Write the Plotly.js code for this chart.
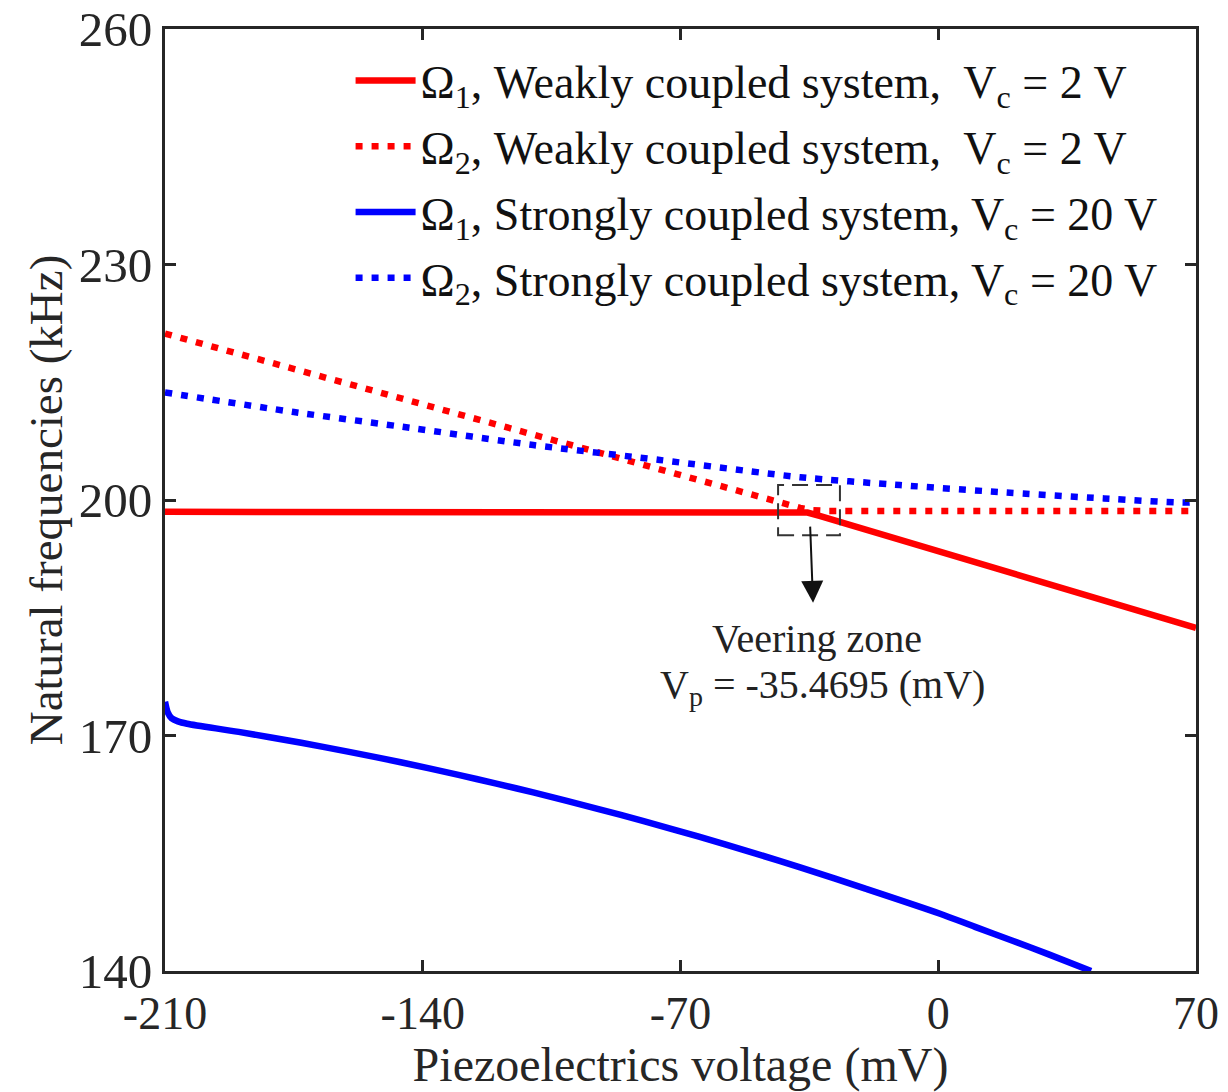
<!DOCTYPE html>
<html>
<head>
<meta charset="utf-8">
<script src="https://cdn.plot.ly/plotly-3.0.1.min.js"></script>
<style>
  html, body { margin: 0; padding: 0; background: #fff; }
  #chart { width: 1228px; height: 1092px; }
</style>
</head>
<body>
<div id="chart"></div>
<script>
// Piezoelectric voltage (mV) and natural frequencies (kHz)
const weakOmega1X = [-210, -38, -35.5, -32, 70];
const weakOmega1Y = [198.5, 198.5, 198.4, 197.95, 183.7];

const weakOmega2X = [-210, -175, -143.5, -110, -75.6, -64.7, -51.1, -42, -37.5, -34, -30, 70];
const weakOmega2Y = [221.2, 216.7, 212.6, 208.2, 203.8, 202.4, 200.6, 199.5, 199.0, 198.7, 198.6, 198.6];

const strongOmega1X = [-210, -209.3, -208.2, -206.5, -204, -190, -173, -160, -146, -130, -120, -110, -92, -80, -65, -50, -37.5, -20, 0.5, 10, 20, 30, 41.5];
const strongOmega1Y = [174.3, 173.0, 172.2, 171.8, 171.5, 170.46, 169.07, 167.91, 166.6, 164.95, 163.87, 162.75, 160.6, 159.09, 157.11, 155.02, 153.2, 150.53, 147.3, 145.62, 143.89, 142.12, 140.0];

const strongOmega2X = [-210, -175, -143.5, -110, -75.6, -37.5, -10.4, 17, 45, 68.5, 70];
const strongOmega2Y = [213.7, 211.2, 209.2, 207.0, 205.1, 202.9, 201.9, 201.0, 200.2, 199.7, 200.0];

const xTicks = [-210, -140, -70, 0, 70];
const yTicks = [140, 170, 200, 230, 260];

const legendNames = [
  'Ω<sub>1</sub>, Weakly coupled system,  V<sub>c</sub> = 2 V',
  'Ω<sub>2</sub>, Weakly coupled system,  V<sub>c</sub> = 2 V',
  'Ω<sub>1</sub>, Strongly coupled system, V<sub>c</sub> = 20 V',
  'Ω<sub>2</sub>, Strongly coupled system, V<sub>c</sub> = 20 V'
];

// Veering zone box and arrow (data coordinates)
const veerBoxX = [-43.5, -26.7];
const veerBoxY = [195.5, 201.9];
const veerArrowFrom = [-34.8, 196.8];
const veerArrowTo = [-34.0, 186.9];
const veerText1 = 'Veering zone';
const veerText2 = 'V<sub>p</sub> = -35.4695 (mV)';

const FONT = '"Liberation Serif", "Times New Roman", serif';
const RED = '#ff0000', BLUE = '#0000ff';
const LW = 6.5;
const DOT = '7px,9px';

const traces = [
  {x: weakOmega1X, y: weakOmega1Y, mode: 'lines', name: legendNames[0], legendgroup: 'a',
   line: {color: RED, width: LW}},
  {x: weakOmega2X, y: weakOmega2Y, mode: 'lines', name: legendNames[1], legendgroup: 'b',
   line: {color: RED, width: LW, dash: DOT}},
  {x: strongOmega1X, y: strongOmega1Y, mode: 'lines', name: legendNames[2], legendgroup: 'c',
   line: {color: BLUE, width: LW, shape: 'spline', smoothing: 0.8}},
  {x: strongOmega2X, y: strongOmega2Y, mode: 'lines', name: legendNames[3], legendgroup: 'd',
   line: {color: BLUE, width: LW, dash: DOT, shape: 'spline', smoothing: 0.6}}
];

const axisCommon = {
  showline: true, linecolor: '#262626', linewidth: 3, mirror: 'ticks',
  ticks: 'inside', ticklen: 11, tickwidth: 3, tickcolor: '#262626',
  showgrid: false, zeroline: false
};

const layout = {
  width: 1228, height: 1092,
  margin: {l: 165, r: 32, t: 29, b: 121},
  paper_bgcolor: '#fff', plot_bgcolor: '#fff',
  showlegend: true,
  legend: {
    x: 0.18, y: 0.984, xanchor: 'left', yanchor: 'top',
    bgcolor: 'rgba(0,0,0,0)', borderwidth: 0,
    font: {family: FONT, size: 46, color: '#111'},
    itemwidth: 60, tracegroupgap: 3
  },
  xaxis: Object.assign({}, axisCommon, {
    range: [-210, 70], tickmode: 'array', tickvals: xTicks,
    ticktext: xTicks.map(String),
    tickfont: {family: FONT, size: 46, color: '#262626'},
    title: {text: 'Piezoelectrics voltage (mV)', font: {family: FONT, size: 48, color: '#262626'}, standoff: 8}
  }),
  yaxis: Object.assign({}, axisCommon, {
    range: [140, 260], tickmode: 'array', tickvals: yTicks,
    ticktext: yTicks.map(String),
    tickfont: {family: FONT, size: 49, color: '#262626'},
    title: {text: 'Natural frequencies (kHz)', font: {family: FONT, size: 47, color: '#262626'}, standoff: 2}
  }),
  shapes: [
    {type: 'rect', xref: 'x', yref: 'y', x0: veerBoxX[0], x1: veerBoxX[1], y0: veerBoxY[0], y1: veerBoxY[1],
     line: {color: '#333', width: 2, dash: '16px,8px'}, fillcolor: 'rgba(0,0,0,0)'}
  ],
  annotations: [
    {x: veerArrowTo[0], y: veerArrowTo[1], ax: veerArrowFrom[0], ay: veerArrowFrom[1],
     xref: 'x', yref: 'y', axref: 'x', ayref: 'y', text: '', showarrow: true,
     arrowhead: 2, arrowsize: 2.2, arrowwidth: 2, arrowcolor: '#111'},
    {x: -33, y: 182.3, xref: 'x', yref: 'y', text: veerText1, showarrow: false,
     font: {family: FONT, size: 40, color: '#222'}, xanchor: 'center', yanchor: 'middle'},
    {x: -31.5, y: 176.2, xref: 'x', yref: 'y', text: veerText2, showarrow: false,
     font: {family: FONT, size: 40, color: '#222'}, xanchor: 'center', yanchor: 'middle'}
  ]
};

Plotly.newPlot('chart', traces, layout, {displayModeBar: false, staticPlot: true});
</script>
</body>
</html>
